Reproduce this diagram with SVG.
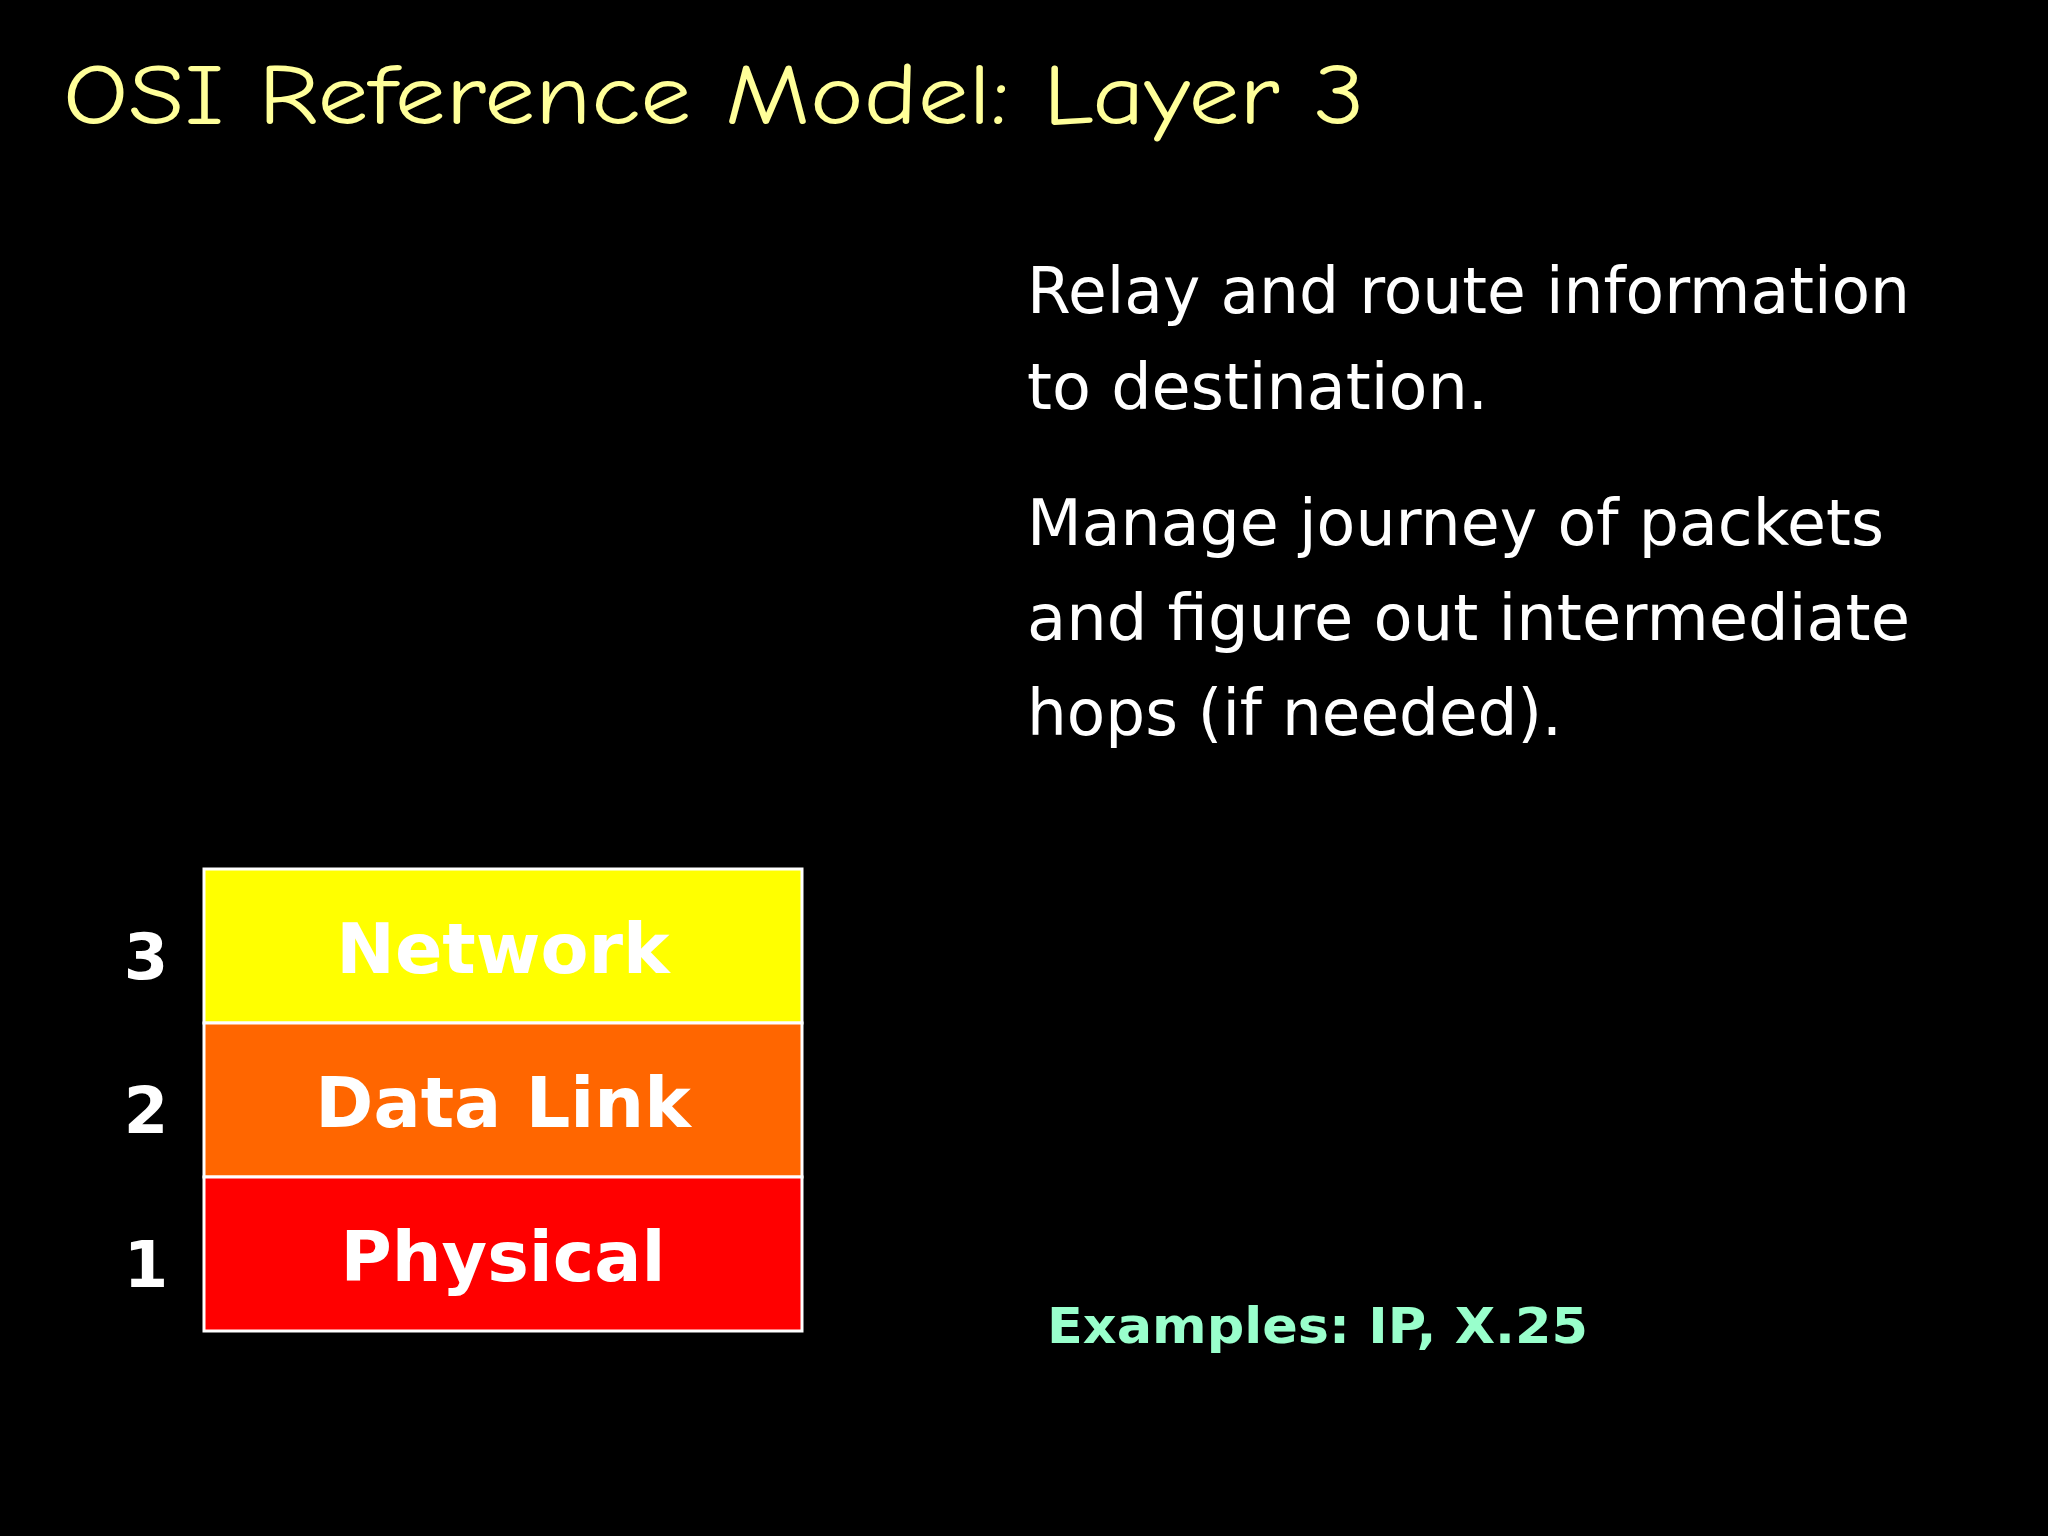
<svg xmlns="http://www.w3.org/2000/svg" width="2048" height="1536" viewBox="0 0 2048 1536">
<style>
.hand{font-family:"Comic Neue","DejaVu Sans",sans-serif}
.lbl{font-family:"DejaVu Sans","Liberation Sans",sans-serif;font-weight:bold;fill:#fff;font-size:70px;text-anchor:middle}
.num{font-family:"DejaVu Sans","Liberation Sans",sans-serif;font-weight:bold;fill:#fff;font-size:64px;text-anchor:middle}
.body{font-family:"DejaVu Sans",sans-serif;fill:#fff;font-size:64px}
</style>
<rect width="2048" height="1536" fill="#000"/>
<text x="63" y="124" fill="#ffff99" font-size="86" class="hand" textLength="1302" lengthAdjust="spacingAndGlyphs">OSI Reference Model: Layer 3</text>
<g id="text">
<text x="1027" y="313" class="body" textLength="883" lengthAdjust="spacingAndGlyphs">Relay and route information</text>
<text x="1027" y="409" class="body" textLength="461" lengthAdjust="spacingAndGlyphs">to destination.</text>
<text x="1027" y="545" class="body" textLength="857" lengthAdjust="spacingAndGlyphs">Manage journey of packets</text>
<text x="1027" y="640" class="body" textLength="883" lengthAdjust="spacingAndGlyphs">and figure out intermediate</text>
<text x="1027" y="735" class="body" textLength="535" lengthAdjust="spacingAndGlyphs">hops (if needed).</text>
</g>
<g id="layer3"><rect x="204" y="869" width="598" height="154" fill="#ffff00" stroke="#fff" stroke-width="3"/><text x="503" y="973" class="lbl">Network</text><text x="146" y="979" class="num">3</text></g>
<g id="layer2"><rect x="204" y="1023" width="598" height="154" fill="#ff6600" stroke="#fff" stroke-width="3"/><text x="503" y="1127" class="lbl">Data Link</text><text x="146" y="1133" class="num">2</text></g>
<g id="layer1"><rect x="204" y="1177" width="598" height="154" fill="#ff0000" stroke="#fff" stroke-width="3"/><text x="503" y="1281" class="lbl">Physical</text><text x="146" y="1287" class="num">1</text></g>
<text x="1047" y="1343" fill="#99ffcc" font-size="50" font-weight="bold" font-family="DejaVu Sans,sans-serif" textLength="541" lengthAdjust="spacingAndGlyphs">Examples: IP, X.25</text>
</svg>
